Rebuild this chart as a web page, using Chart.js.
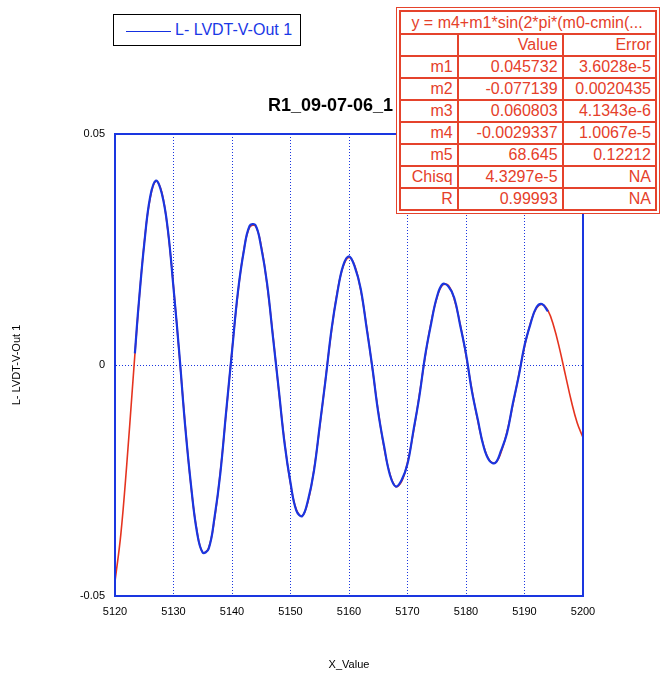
<!DOCTYPE html>
<html>
<head>
<meta charset="utf-8">
<script src="https://cdn.jsdelivr.net/npm/chart.js@4.4.0/dist/chart.umd.min.js"></script>
<style>
  body { margin: 0; background: #fff; font-family: "Liberation Sans", Arial, sans-serif; }
  #wrap { position: relative; width: 660px; height: 674px; overflow: hidden; }
  #c { position: absolute; left: 0; top: 0; }
  #legend { position: absolute; left: 113px; top: 14px; width: 186px; height: 30px; border: 1.5px solid #000; background: #fff; }
  #legend .swatch { position: absolute; left: 12px; top: 16px; width: 45px; height: 0; border-top: 1px solid #1530e0; }
  #legend .label { position: absolute; left: 61px; top: 6px; font-size: 16px; color: #1a38e6; white-space: nowrap; }
  #title { position: absolute; left: 268px; top: 95px; font-size: 18px; font-weight: bold; color: #000; white-space: nowrap; }
  #fit { position: absolute; left: 396px; top: 7px; border: 1px solid #e5432c; padding: 2px; background: #fff; z-index: 2; }
  #fit table { border-collapse: collapse; font-size: 16px; color: #e5402a; table-layout: fixed; }
  #fit td { border: 2px solid #e5432c; height: 20px; padding: 0 4px 0 2px; text-align: right; white-space: nowrap; overflow: hidden; line-height: 20px; }
  #fit td.head { text-align: center; height: 21px; }
</style>
</head>
<body>
<div id="wrap">
  <canvas id="c" width="660" height="674"></canvas>
  <div id="legend"><div class="swatch"></div><div class="label">L- LVDT-V-Out 1</div></div>
  <div id="title">R1_09-07-06_1</div>
  <div id="fit"><table id="fitTable"></table></div>
</div>
<script>
const xTicks = [5120, 5130, 5140, 5150, 5160, 5170, 5180, 5190, 5200];
const yTicks = [-0.05, 0, 0.05];

// fit curve (red)
const fitX = [5120, 5121, 5122, 5123, 5124, 5125, 5126, 5127, 5128, 5129,
  5130, 5131, 5132, 5133, 5134, 5135, 5136, 5137, 5138, 5139,
  5140, 5141, 5142, 5143, 5144, 5145, 5146, 5147, 5148, 5149,
  5150, 5151, 5152, 5153, 5154, 5155, 5156, 5157, 5158, 5159,
  5160, 5161, 5162, 5163, 5164, 5165, 5166, 5167, 5168, 5169,
  5170, 5171, 5172, 5173, 5174, 5175, 5176, 5177, 5178, 5179,
  5180, 5181, 5182, 5183, 5184, 5185, 5186, 5187, 5188, 5189,
  5190, 5191, 5192, 5193, 5194, 5195, 5196, 5197, 5198, 5199, 5200];
const fitY = [-0.0469, -0.0366, -0.0217, -0.0046, 0.0122, 0.0264, 0.0360, 0.0398, 0.0374, 0.0294,
  0.0170, 0.0021, -0.0130, -0.0263, -0.0358, -0.0406, -0.0396, -0.0334, -0.0232, -0.0104,
  0.0031, 0.0154, 0.0247, 0.0298, 0.0301, 0.0257, 0.0173, 0.0064, -0.0056, -0.0168,
  -0.0257, -0.0313, -0.0327, -0.0295, -0.0227, -0.0134, -0.0029, 0.0073, 0.0158, 0.0213,
  0.0233, 0.0214, 0.0162, 0.0084, -0.0008, -0.0100, -0.0179, -0.0236, -0.0263, -0.0252,
  -0.0211, -0.0146, -0.0067, 0.0016, 0.0090, 0.0144, 0.0173, 0.0172, 0.0142, 0.0089,
  0.0021, -0.0053, -0.0120, -0.0174, -0.0206, -0.0212, -0.0189, -0.0145, -0.0087, -0.0023,
  0.0039, 0.0090, 0.0122, 0.0131, 0.0118, 0.0084, 0.0035, -0.0022, -0.0078, -0.0125, -0.0157];

// measured data (blue)
const dataX = [5123.4, 5124, 5125, 5126, 5127, 5128, 5129,
  5130, 5131, 5132, 5133, 5134, 5135, 5136, 5137, 5138, 5139,
  5140, 5141, 5142, 5143, 5144, 5145, 5146, 5147, 5148, 5149,
  5150, 5151, 5152, 5153, 5154, 5155, 5156, 5157, 5158, 5159,
  5160, 5161, 5162, 5163, 5164, 5165, 5166, 5167, 5168, 5169,
  5170, 5171, 5172, 5173, 5174, 5175, 5176, 5177, 5178, 5179,
  5180, 5181, 5182, 5183, 5184, 5185, 5186, 5187, 5188, 5189,
  5190, 5191, 5192, 5193, 5194];
const dataY = [0.0025, 0.0124, 0.0262, 0.0363, 0.0399, 0.0371, 0.0297,
  0.0167, 0.0024, -0.0133, -0.0261, -0.0361, -0.0406, -0.0398, -0.0331, -0.0235, -0.0101,
  0.0029, 0.0157, 0.0245, 0.0301, 0.0303, 0.0254, 0.0176, 0.0061, -0.0054, -0.0171,
  -0.0255, -0.0315, -0.0327, -0.0292, -0.0230, -0.0131, -0.0031, 0.0076, 0.0156, 0.0215,
  0.0235, 0.0212, 0.0165, 0.0081, -0.0006, -0.0103, -0.0176, -0.0238, -0.0263, -0.0249,
  -0.0214, -0.0143, -0.0070, 0.0019, 0.0087, 0.0146, 0.0175, 0.0170, 0.0145, 0.0086,
  0.0024, -0.0056, -0.0117, -0.0176, -0.0207, -0.0212, -0.0185, -0.0148, -0.0084, -0.0025,
  0.0042, 0.0088, 0.0124, 0.0132, 0.0116];

// fit results table
const fitFormula = "y = m4+m1*sin(2*pi*(m0-cmin(...";
const paramNames = ["m1", "m2", "m3", "m4", "m5", "Chisq", "R"];
const paramValues = ["0.045732", "-0.077139", "0.060803", "-0.0029337", "68.645", "4.3297e-5", "0.99993"];
const paramErrors = ["3.6028e-5", "0.0020435", "4.1343e-6", "1.0067e-5", "0.12212", "NA", "NA"];

const blue = "#1a36e0";
const red = "#e5331f";

function buildTable() {
  const t = document.getElementById("fitTable");
  let html = '<colgroup><col style="width:60px"><col style="width:109px"><col style="width:96px"></colgroup>';
  html += '<tr><td class="head" colspan="3">' + fitFormula + '</td></tr>';
  html += '<tr><td></td><td>Value</td><td>Error</td></tr>';
  for (let i = 0; i < paramNames.length; i++) {
    html += '<tr><td>' + paramNames[i] + '</td><td>' + paramValues[i] + '</td><td>' + paramErrors[i] + '</td></tr>';
  }
  t.innerHTML = html;
}
buildTable();

const frame = {
  id: "frame",
  afterDatasetsDraw(chart) {
    const a = chart.chartArea;
    const ctx = chart.ctx;
    ctx.save();
    ctx.strokeStyle = blue;
    ctx.lineWidth = 2;
    ctx.strokeRect(a.left, a.top, a.right - a.left, a.bottom - a.top);
    ctx.restore();
  }
};

const font = { family: "'Liberation Sans', Arial, sans-serif", size: 11 };

new Chart(document.getElementById("c"), {
  type: "line",
  data: {
    datasets: [
      {
        label: "L- LVDT-V-Out 1",
        data: dataX.map((x, i) => ({ x: x, y: dataY[i] })),
        borderColor: blue,
        borderWidth: 2.2,
        pointRadius: 0,
        tension: 0.4,
        fill: false
      },
      {
        label: "fit",
        data: fitX.map((x, i) => ({ x: x, y: fitY[i] })),
        borderColor: red,
        borderWidth: 1.6,
        pointRadius: 0,
        tension: 0.4,
        fill: false
      }
    ]
  },
  options: {
    responsive: false,
    animation: false,
    layout: { padding: { top: 134, right: 77, left: 0, bottom: 0 } },
    plugins: { legend: { display: false }, title: { display: false }, tooltip: { enabled: false } },
    scales: {
      x: {
        type: "linear",
        min: 5120,
        max: 5200,
        afterBuildTicks: s => { s.ticks = xTicks.map(v => ({ value: v })); },
        ticks: { color: "#000", font: font, padding: 9, maxRotation: 0, callback: v => String(v) },
        grid: { color: blue, lineWidth: 1, drawTicks: false },
        border: { color: blue, width: 2, dash: [1, 2] },
        title: { display: true, text: "X_Value", color: "#000", font: font, padding: { top: 0, bottom: 2 } },
        afterFit: s => { s.height = 78; }
      },
      y: {
        min: -0.05,
        max: 0.05,
        afterBuildTicks: s => { s.ticks = yTicks.map(v => ({ value: v })); },
        ticks: { color: "#000", font: font, padding: 10, callback: v => String(v) },
        grid: { color: c => (c.tick && c.tick.value === 0 ? blue : "transparent"), lineWidth: 1, drawTicks: false },
        border: { color: blue, width: 2, dash: [1, 2] },
        title: { display: true, text: "L- LVDT-V-Out 1", color: "#000", font: font, padding: { top: 10, bottom: 0 } },
        afterFit: s => { s.width = 115; }
      }
    }
  },
  plugins: [frame]
});
</script>
</body>
</html>
